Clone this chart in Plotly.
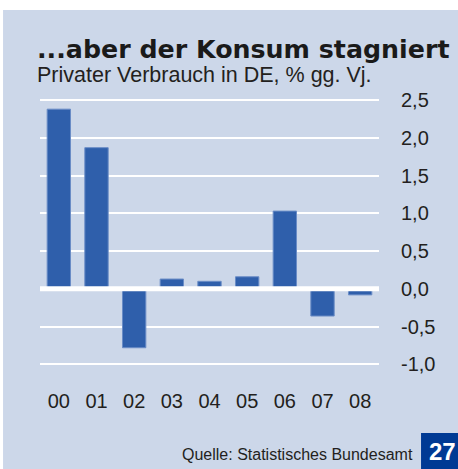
import plotly.graph_objects as go

# data
years = ["00", "01", "02", "03", "04", "05", "06", "07", "08"]
konsum = [2.38, 1.87, -0.78, 0.13, 0.10, 0.16, 1.03, -0.36, -0.08]
y_ticks = [-1.0, -0.5, 0.0, 0.5, 1.0, 1.5, 2.0, 2.5]
y_labels = ["-1,0", "-0,5", "0,0", "0,5", "1,0", "1,5", "2,0", "2,5"]

panel = "#ccd7e9"
bar_blue = "#2f5fab"
txt = "#231f20"
font_fam = "Liberation Sans, Arial, sans-serif"

fig = go.Figure()
fig.add_trace(go.Bar(
    x=years,
    y=konsum,
    marker=dict(color=bar_blue, line=dict(color="#6a8cc6", width=1)),
    hoverinfo="skip",
))

fig.update_layout(
    width=458,
    height=469,
    margin=dict(l=40, r=79, t=85, b=82),
    paper_bgcolor="white",
    plot_bgcolor="rgba(0,0,0,0)",
    bargap=0.38,
    showlegend=False,
    font=dict(family=font_fam, color=txt),
    xaxis=dict(
        type="category",
        showgrid=False,
        showline=False,
        ticks="",
        tickfont=dict(size=20, color=txt),
        ticklabelstandoff=0,
    ),
    yaxis=dict(
        side="right",
        range=[-1.3, 2.7],
        tickvals=y_ticks,
        ticktext=y_labels,
        tickfont=dict(size=20, color=txt),
        showgrid=True,
        gridcolor="white",
        gridwidth=2,
        zeroline=False,
        showline=False,
        ticks="",
        ticklabelstandoff=21,
    ),
    shapes=[
        # light blue panel
        dict(type="rect", xref="paper", yref="paper", x0=-0.109, x1=1.27,
             y0=-0.28, y1=1.248, fillcolor=panel, line=dict(width=0), layer="below"),
        # thick zero line over bars
        dict(type="line", xref="paper", yref="y", x0=0, x1=1, y0=0, y1=0,
             line=dict(color="white", width=5), layer="above"),
        # page number box
        dict(type="rect", xref="paper", yref="paper", x0=1.124, x1=1.27,
             y0=-0.28, y1=-0.152, fillcolor="#003a94", line=dict(width=0)),
    ],
    annotations=[
        dict(text="<b>...aber der Konsum stagniert</b>", xref="paper", yref="paper",
             x=-0.0147, y=1.119, xanchor="left", yanchor="middle", showarrow=False,
             font=dict(family="DejaVu Sans, sans-serif", size=25.3, color="#1a1a1a")),
        dict(text="Privater Verbrauch in DE, % gg. Vj.", xref="paper", yref="paper",
             x=-0.0147, y=1.033, xanchor="left", yanchor="middle", showarrow=False,
             font=dict(size=21.5, color=txt)),
        dict(text="Quelle: Statistisches Bundesamt", xref="paper", yref="paper",
             x=1.106, y=-0.222, xanchor="right", yanchor="middle", showarrow=False,
             font=dict(size=16, color=txt)),
        dict(text="<b>27</b>", xref="paper", yref="paper",
             x=1.187, y=-0.215, xanchor="center", yanchor="middle", showarrow=False,
             font=dict(size=24, color="white")),
    ],
)

fig.write_html("out.html", config={"displayModeBar": False},
               post_script="document.body.style.margin='0';"
                           "document.body.style.overflow='hidden';")
